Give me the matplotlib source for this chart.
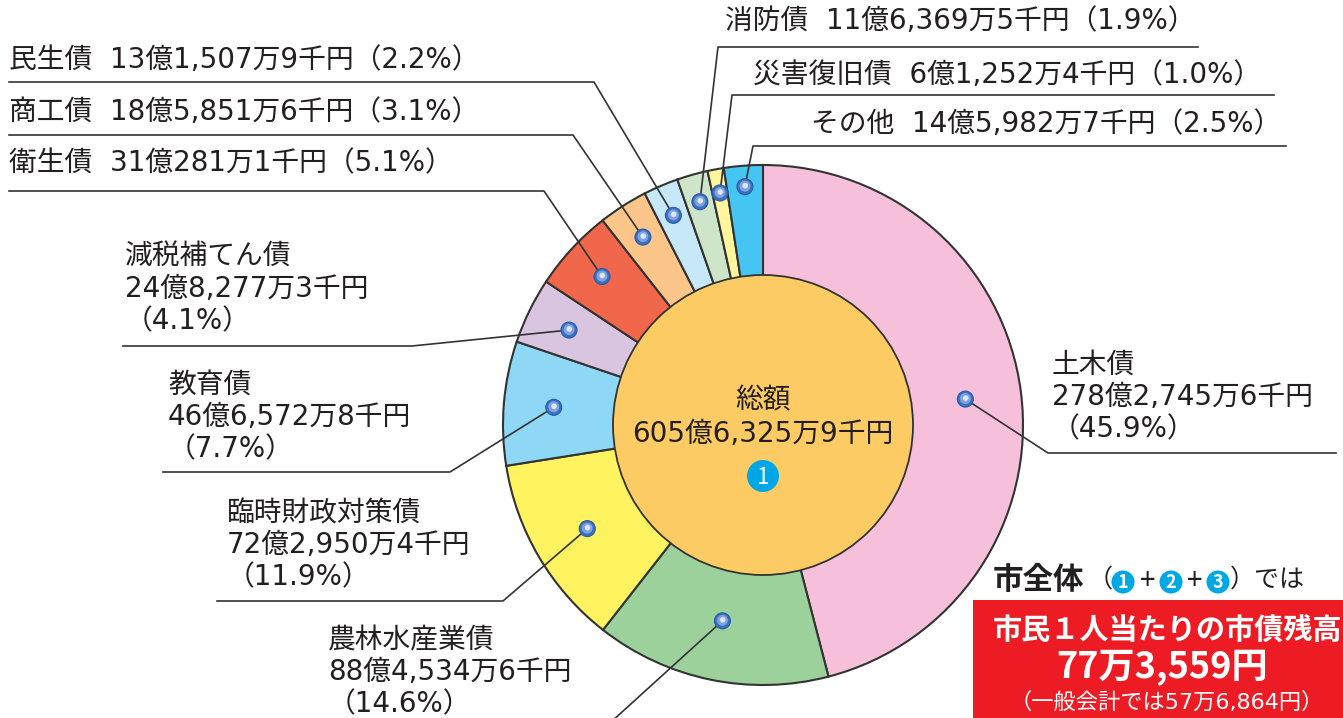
import numpy as np
import matplotlib.pyplot as plt
from matplotlib.patches import Circle, Rectangle

plt.rcParams['font.family'] = ['Noto Sans CJK JP', 'DejaVu Sans']
# 数字は幅の広い欧文フォントで
MIX = ['DejaVu Sans', 'Noto Sans CJK JP']

# データ（単位：千円）
names = ['土木債', '農林水産業債', '臨時財政対策債', '教育債', '減税補てん債', '衛生債',
         '商工債', '民生債', '消防債', '災害復旧債', 'その他']
amounts = [27827456, 8845346, 7229504, 4665728, 2482773, 3102811,
           1858516, 1315079, 1163695, 612524, 1459827]
pcts = [45.9, 14.6, 11.9, 7.7, 4.1, 5.1, 3.1, 2.2, 1.9, 1.0, 2.5]
colors = ['#F6C0DA', '#9DD19B', '#FFF35F', '#8ED8F6', '#D9C5E0', '#F1674B',
          '#FCC68A', '#C6E8F8', '#CEE5CA', '#FFF59C', '#45C6F2']

TXT = '#231F20'


def yen(v):
    oku, rest = divmod(v, 100000)
    man, sen = divmod(rest, 10)
    return f'{oku}億{man:,}万{sen}千円'


fig = plt.figure(figsize=(13.43, 7.18), dpi=100)
ax = fig.add_axes([0, 0, 1, 1])

cx, cy, R = 763, 425, 260
ax.pie(amounts, colors=colors, startangle=-90, counterclock=True,
       center=(cx, cy), radius=R,
       wedgeprops=dict(edgecolor='#333333', linewidth=1.5))
ax.add_patch(Circle((cx, cy), 150, fc='#FDCB64', ec='#333333', lw=1.3, zorder=2))

ax.set_xlim(0, 1343)
ax.set_ylim(718, 0)
ax.set_aspect('equal')
ax.axis('off')

# 中央
ax.text(cx, 400, '総額', ha='center', va='center', fontsize=20, color=TXT, zorder=5)
ax.text(cx, 434, yen(sum(amounts)), ha='center', va='center', fontsize=20,
        family=MIX, color=TXT, zorder=5)
ax.add_patch(Circle((cx, 476), 16, fc='#00A7E5', ec='none', zorder=5))
ax.text(cx, 477, '1', ha='center', va='center', fontsize=16, color='white', zorder=6)

# 玉の位置（中心からの距離）
ball_r = [204, 200, 204, 210, 216, 219, 223, 228, 232, 236, 239]
# ラベル配置: (x, y, 複数行か, 引き出し線の折れ点)
layout = [
    (1052, 365, True, [(1048, 453), (1336, 453)]),
    (328, 640, True, [(600, 732)]),
    (227, 513, True, [(503, 601), (217, 601)]),
    (168, 385, True, [(450, 472), (163, 472)]),
    (125, 257, True, [(412, 346), (123, 346)]),
    (9, 163, False, [(544, 191), (9, 191)]),
    (9, 112, False, [(573, 135), (9, 135)]),
    (9, 60, False, [(594, 82), (9, 82)]),
    (725, 21, False, [(718, 47), (1198, 47)]),
    (753, 75, False, [(732, 95), (1274, 95)]),
    (811, 124, False, [(753, 146), (1286, 146)]),
]

total = sum(amounts)
cum = np.cumsum(amounts)
for i, name in enumerate(names):
    mid = 360 * (cum[i] - amounts[i] / 2) / total
    t = np.deg2rad(mid)
    bx = cx + ball_r[i] * np.sin(t)
    by = cy - ball_r[i] * np.cos(t)
    x, y, multi, path = layout[i]
    xs = [bx] + [p[0] for p in path]
    ys = [by] + [p[1] for p in path]
    ax.plot(xs, ys, color='#333333', lw=1.2, zorder=3, clip_on=True)
    ax.add_patch(Circle((bx, by), 8, fc='#3B6FC3', ec='#2C5BA6', lw=0.8, zorder=4))
    ax.add_patch(Circle((bx, by - 0.5), 5.5, fc='#7EA2DC', ec='none', zorder=4))
    ax.add_patch(Circle((bx + 0.3, by - 1), 2.8, fc='#DDE6F6', ec='none', zorder=4))
    if multi:
        lines = [name, yen(amounts[i]), f'（{pcts[i]}%）']
        for k, s in enumerate(lines):
            ax.text(x, y + 32 * k, s, ha='left', va='center', fontsize=20,
                    family=MIX, color=TXT)
    else:
        ax.text(x, y, f'{name}  {yen(amounts[i])}（{pcts[i]}%）',
                ha='left', va='center', fontsize=20, family=MIX, color=TXT)

# 右下
ax.text(993, 580, '市全体', ha='left', va='center', fontsize=22, fontweight='bold', color=TXT)
ax.text(1088, 580, '（', ha='left', va='center', fontsize=18, color=TXT)
for k, xx in enumerate([1123, 1171, 1218]):
    ax.add_patch(Circle((xx, 582), 11.5, fc='#00A7E5', ec='none', zorder=5))
    ax.text(xx, 583, str(k + 1), ha='center', va='center', fontsize=13,
            fontweight='bold', color='white', zorder=6)
for xx in [1148, 1195]:
    ax.text(xx, 581, '+', ha='center', va='center', fontsize=20, color=TXT)
ax.text(1230, 580, '）では', ha='left', va='center', fontsize=18, color=TXT)

ax.add_patch(Rectangle((973, 600), 372, 120, fc='#ED1C24', ec='none', zorder=2))
ax.text(993, 631, '市民１人当たりの市債残高', ha='left', va='center', fontsize=21,
        fontweight='bold', color='white', zorder=5)
ax.text(1162, 668, '77万3,559円', ha='center', va='center', fontsize=26,
        fontweight='bold', color='white', zorder=5)
ax.text(1167, 702, '（一般会計では57万6,864円）', ha='center', va='center', fontsize=16,
        family=MIX, color='white', zorder=5)

fig.savefig('out.png', dpi=100)
